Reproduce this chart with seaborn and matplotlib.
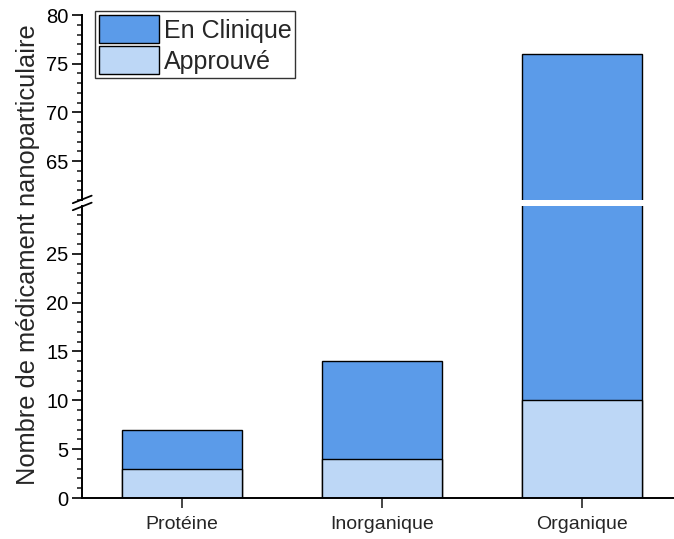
import seaborn as sns
import matplotlib.pyplot as plt
import pandas as pd
from matplotlib.ticker import MultipleLocator
from matplotlib.patches import Patch

categories = ['Protéine', 'Inorganique', 'Organique']
approuve = [3, 4, 10]
en_clinique = [4, 10, 66]
total = [a + c for a, c in zip(approuve, en_clinique)]

df = pd.DataFrame({'cat': categories, 'approuve': approuve, 'total': total})

sns.set_style('ticks')
plt.rcParams['font.family'] = ['Liberation Sans', 'DejaVu Sans']

c_dark = '#5b9be9'
c_light = '#bdd7f6'

fig = plt.figure(figsize=(6.74, 5.39), dpi=100)
ax_top = fig.add_axes([0.122, 0.629, 0.878, 0.343])
ax_bot = fig.add_axes([0.122, 0.076, 0.878, 0.542])

for ax in (ax_top, ax_bot):
    sns.barplot(data=df, x='cat', y='total', color=c_dark, width=0.6,
                edgecolor='black', linewidth=1, saturation=1, ax=ax)
    sns.barplot(data=df, x='cat', y='approuve', color=c_light, width=0.6,
                edgecolor='black', linewidth=1, saturation=1, ax=ax)
    ax.set_xlim(-0.5, 2.46)
    ax.set_xlabel('')
    ax.set_ylabel('')
    ax.yaxis.set_minor_locator(MultipleLocator(1))
    ax.yaxis.set_major_locator(MultipleLocator(5))
    ax.tick_params(axis='y', which='major', length=7, width=1.2, labelsize=14.5,
                   colors='black', pad=3)
    ax.tick_params(axis='y', which='minor', length=3.5, width=1.2)
    ax.tick_params(axis='x', length=7, width=1.2, labelsize=14, pad=6)
    for s in ['top', 'right']:
        ax.spines[s].set_visible(False)
    for s in ['left', 'bottom']:
        ax.spines[s].set_linewidth(1.4)
        ax.spines[s].set_color('black')

ax_top.set_ylim(61, 80)
ax_bot.set_ylim(0, 29.9)
ax_top.spines['bottom'].set_visible(False)
ax_top.tick_params(axis='x', bottom=False, labelbottom=False)

# break marks on the left spine
x0 = 0.122
for yb in (0.617, 0.630):
    fig.add_artist(plt.Line2D([x0 - 0.014, x0 + 0.014], [yb - 0.007, yb + 0.007],
                              color='black', lw=1.3, transform=fig.transFigure))

fig.text(0.042, 0.527, 'Nombre de médicament nanoparticulaire', rotation=90,
         va='center', ha='center', fontsize=18.3)

handles = [Patch(facecolor=c_dark, edgecolor='black', label='En Clinique'),
           Patch(facecolor=c_light, edgecolor='black', label='Approuvé')]
leg = ax_top.legend(handles=handles, loc='upper left', bbox_to_anchor=(0.022, 1.02),
                    fontsize=18, frameon=True, fancybox=False, edgecolor='black',
                    handlelength=2.4, handleheight=1.35, handletextpad=0.2,
                    labelspacing=0.12, borderpad=0.15, borderaxespad=0)
leg.get_frame().set_linewidth(1)

fig.savefig('out.png', dpi=100)
